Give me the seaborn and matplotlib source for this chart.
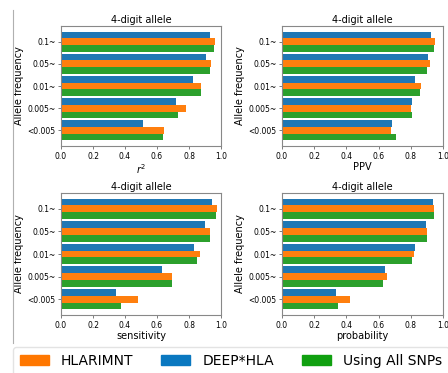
import numpy as np
import pandas as pd
import matplotlib
matplotlib.use('Agg')
import matplotlib.pyplot as plt
import matplotlib.patches as mpatches
from matplotlib.lines import Line2D
import seaborn as sns

# Allele frequency bins (top to bottom)
freq_bins = ['0.1~', '0.05~', '0.01~', '0.005~', '<0.005']
methods = ['DEEP*HLA', 'HLARIMNT', 'Using All SNPs']
metrics = ['$r^2$', 'PPV', 'sensitivity', 'probability']

# values, one list per method per metric
r2_deep = [0.931, 0.904, 0.826, 0.719, 0.514]
r2_hlarimnt = [0.964, 0.937, 0.876, 0.784, 0.644]
r2_all = [0.958, 0.931, 0.874, 0.730, 0.639]

ppv_deep = [0.928, 0.907, 0.826, 0.805, 0.685]
ppv_hlarimnt = [0.948, 0.921, 0.865, 0.801, 0.677]
ppv_all = [0.944, 0.900, 0.855, 0.810, 0.710]

sens_deep = [0.946, 0.901, 0.834, 0.633, 0.346]
sens_hlarimnt = [0.975, 0.933, 0.870, 0.696, 0.482]
sens_all = [0.969, 0.929, 0.853, 0.692, 0.375]

prob_deep = [0.936, 0.894, 0.823, 0.640, 0.337]
prob_hlarimnt = [0.944, 0.900, 0.819, 0.651, 0.420]
prob_all = [0.942, 0.900, 0.807, 0.630, 0.347]

all_values = {
    '$r^2$': (r2_deep, r2_hlarimnt, r2_all),
    'PPV': (ppv_deep, ppv_hlarimnt, ppv_all),
    'sensitivity': (sens_deep, sens_hlarimnt, sens_all),
    'probability': (prob_deep, prob_hlarimnt, prob_all),
}

bar_colors = {'DEEP*HLA': '#1f77b4', 'HLARIMNT': '#ff7f0e', 'Using All SNPs': '#2ca02c'}

W, H = 448, 373
fig = plt.figure(figsize=(W / 100, H / 100), dpi=100)

# axes boxes in pixels: left, top, right, bottom
boxes = [(61, 26, 221, 146), (282, 26, 443, 146),
         (61, 193, 221, 315), (282, 193, 443, 315)]

for metric, (l, t, r, b) in zip(metrics, boxes):
    ax = fig.add_axes([l / W, 1 - b / H, (r - l) / W, (b - t) / H])
    rows = []
    for method, vals in zip(methods, all_values[metric]):
        for f, v in zip(freq_bins, vals):
            rows.append({'freq': f, 'value': v, 'method': method})
    df = pd.DataFrame(rows)
    sns.barplot(data=df, x='value', y='freq', hue='method', order=freq_bins,
                hue_order=methods, palette=bar_colors, orient='h', width=0.9,
                saturation=1, legend=False, ax=ax)
    ax.set_ylim(4.7, -0.7)
    ax.set_xlim(0, 1)
    ax.set_xticks([0, 0.2, 0.4, 0.6, 0.8, 1.0])
    ax.set_xticklabels(['0.0', '0.2', '0.4', '0.6', '0.8', '1.0'])
    ax.set_title('4-digit allele', fontsize=7, pad=2)
    ax.set_xlabel(metric, fontsize=7, labelpad=1)
    ax.set_ylabel('Allele frequency', fontsize=7, labelpad=2)
    ax.tick_params(labelsize=5.5, length=2.5, width=0.6, pad=1.5, color='#666666')
    for s in ax.spines.values():
        s.set_color('#888888')
        s.set_linewidth(0.8)

# thin gray separator line on the left
fig.add_artist(Line2D([13 / W, 13 / W], [1 - 10 / H, 1 - 343 / H],
                      color='#b0b0b0', lw=0.8))

legend_colors = {'HLARIMNT': '#ff7700', 'DEEP*HLA': '#0a78c0', 'Using All SNPs': '#10a010'}
handles = [mpatches.Patch(color=c, label=k) for k, c in legend_colors.items()]
fig.legend(handles=handles, loc='upper left', bbox_to_anchor=(13 / W, 1 - 347 / H),
           ncol=3, fontsize=10, frameon=True, borderaxespad=0,
           handlelength=2.1, handleheight=0.7, handletextpad=0.85,
           columnspacing=2.0, borderpad=0.5, edgecolor='#dddddd', fancybox=True)

fig.savefig('out.png', dpi=100)
